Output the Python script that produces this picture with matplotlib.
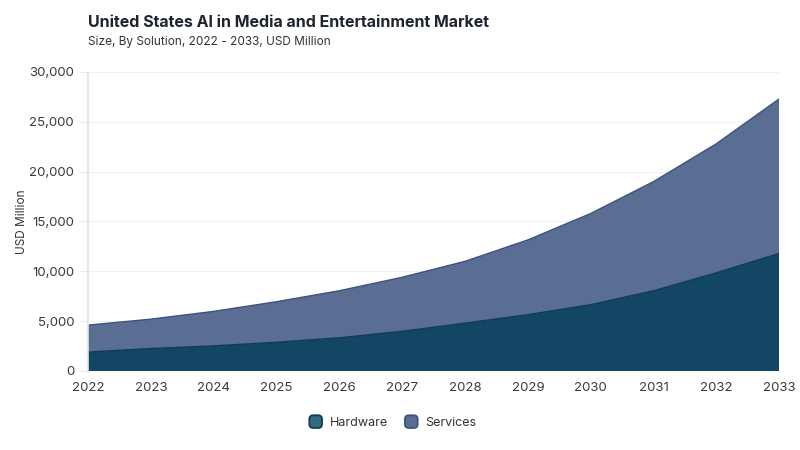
import matplotlib
matplotlib.use("Agg")
import matplotlib.pyplot as plt
from matplotlib.patches import FancyBboxPatch
from matplotlib.legend_handler import HandlerPatch
from matplotlib.ticker import FuncFormatter

years = [2022, 2023, 2024, 2025, 2026, 2027, 2028, 2029, 2030, 2031, 2032, 2033]
hardware = [1900, 2250, 2520, 2880, 3330, 3980, 4800, 5650, 6650, 8050, 9850, 11800]
total = [4600, 5200, 5980, 6950, 8050, 9400, 11000, 13150, 15800, 19000, 22800, 27300]
services = [t - h for t, h in zip(total, hardware)]
series_names = ["Hardware", "Services"]
yticks = [0, 5000, 10000, 15000, 20000, 25000, 30000]

plt.rcParams['font.family'] = ['Inter', 'DejaVu Sans']

hw_fill = "#134664"
hw_edge = "#0f3b55"
sv_fill = "#5a6e94"
sv_edge = "#3b5283"

fig = plt.figure(figsize=(8, 4.5), dpi=100)
ax = fig.add_axes([0.11, 0.1756, 0.864, 0.6644])

ax.stackplot(years, hardware, services, colors=[hw_fill, sv_fill], linewidth=0)
ax.plot(years, hardware, color=hw_edge, lw=1.0)
ax.plot(years, total, color=sv_edge, lw=1.0)

ax.set_xlim(years[0], years[-1])
ax.set_ylim(0, 30000)
ax.set_xticks(years)
ax.set_yticks(yticks)
ax.yaxis.set_major_formatter(FuncFormatter(lambda v, p: f"{int(v):,}"))
ax.grid(axis='y', color="#f0f0f0", lw=0.8)
ax.set_axisbelow(True)
for s in ["top", "right", "bottom"]:
    ax.spines[s].set_visible(False)
ax.spines["left"].set_color("#e3e3e3")
ax.spines["left"].set_linewidth(1.2)
ax.tick_params(axis='y', length=6, color="#e8e8e8", labelsize=9.5, labelcolor="#3a3a3a", pad=4)
ax.tick_params(axis='x', length=0, labelsize=9.5, labelcolor="#3a3a3a", pad=8)
ax.set_ylabel("USD Million", fontsize=8.5, color="#333333", labelpad=1)

fig.text(0.11, 0.951, "United States AI in Media and Entertainment Market", fontsize=11.5,
         fontweight='bold', color="#1f2433", ha='left', va='center')
fig.text(0.11, 0.907, "Size, By Solution, 2022 - 2033, USD Million", fontsize=8.5,
         color="#333333", ha='left', va='center')

class RoundHandler(HandlerPatch):
    def create_artists(self, legend, orig_handle, xdescent, ydescent, width, height, fontsize, trans):
        s = min(width, height) * 1.45
        p = FancyBboxPatch((xdescent + (width - s) / 2, ydescent + (height - s) / 2), s, s,
                           boxstyle="round,pad=0,rounding_size=%f" % (s * 0.3),
                           facecolor=orig_handle.get_facecolor(), edgecolor=orig_handle.get_edgecolor(),
                           lw=1.3, transform=trans)
        return [p]

h1 = FancyBboxPatch((0, 0), 1, 1, facecolor="#336a80", edgecolor=hw_edge)
h2 = FancyBboxPatch((0, 0), 1, 1, facecolor=sv_fill, edgecolor=sv_edge)
fig.legend([h1, h2], series_names, loc='center', bbox_to_anchor=(0.491, 0.06), ncol=2, frameon=False,
           fontsize=9, handler_map={FancyBboxPatch: RoundHandler()}, handlelength=1.0,
           handletextpad=0.6, columnspacing=1.4, labelcolor="#333333")

fig.savefig("out.png", dpi=100)
